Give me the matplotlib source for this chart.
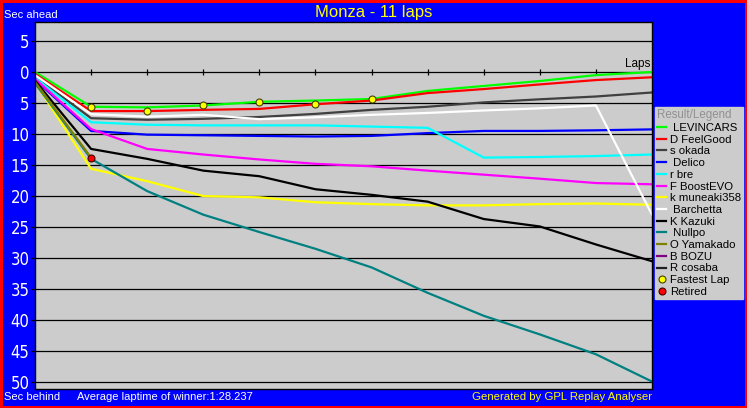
import numpy as np
import matplotlib
matplotlib.use("Agg")
from matplotlib import pyplot as plt
from matplotlib.lines import Line2D
from matplotlib.patches import Rectangle

nan = np.nan
laps = np.arange(0, 12)

# seconds behind the leader at the end of each lap
levincars = [0.0, 5.6, 5.7, 5.4, 4.8, 4.6, 4.35, 3.05, 2.25, 1.45, 0.5, 0.0]
feelgood = [0.3, 6.3, 6.3, 6.1, 5.95, 5.2, 4.6, 3.4, 2.75, 2.0, 1.3, 0.85]
okada = [0.7, 7.45, 7.7, 7.55, 7.25, 6.75, 6.1, 5.6, 4.9, 4.4, 3.95, 3.3]
delico = [1.2, 9.5, 10.1, 10.2, 10.3, 10.4, 10.3, 9.85, 9.5, 9.5, 9.4, 9.25]
rbre = [0.9, 8.1, 8.5, 8.6, 8.6, 8.6, 8.8, 9.0, 13.8, 13.7, 13.55, 13.3]
boostevo = [1.1, 9.2, 12.4, 13.3, 14.1, 14.8, 15.2, 15.9, 16.55, 17.2, 17.9, 18.1]
muneaki = [1.7, 15.6, 17.6, 20.0, 20.2, 21.0, 21.3, 21.5, 21.5, 21.3, 21.2, 21.4]
barchetta = [0.5, 6.8, 7.2, 6.9, 7.6, 7.3, 6.9, 6.6, 6.2, 5.85, 5.4, 23.0]
kazuki = [1.4, 12.4, 14.0, 15.9, 16.8, 18.9, 19.8, 20.9, 23.7, 24.9, 27.8, 30.5]
nullpo = [1.8, 14.0, 19.2, 23.0, 25.8, 28.5, 31.5, 35.6, 39.3, 42.3, 45.5, 49.9]
yamakado = [1.6, 13.8] + [nan] * 10

drivers = [" LEVINCARS", "D FeelGood", "s okada", " Delico", "r bre", "F BoostEVO",
           "k muneaki358", " Barchetta", "K Kazuki", " Nullpo", "O Yamakado",
           "B BOZU", "R cosaba"]
colors = ["#00ff00", "#ff0000", "#404040", "#0000ff", "#00ffff", "#ff00ff",
          "#ffff00", "#ffffff", "#000000", "#008080", "#808000", "#800080", "#202020"]
series = [levincars, feelgood, okada, delico, rbre, boostevo, muneaki, barchetta,
          kazuki, nullpo, yamakado, None, None]

# fastest lap markers (lap, driver index) and retirements
fastest_laps = [1, 2, 3, 4, 5, 6]
fastest_drv = [0, 1, 0, 0, 1, 0]
retired_laps = [1]
retired_drv = [10]

yticks = np.arange(-5, 51, 5)

blue = "#0000ff"
font = "Liberation Sans"
fig = plt.figure(figsize=(7.47, 4.08), dpi=100, facecolor=blue)
ax = fig.add_axes([35 / 747, 1 - 389 / 408, 617 / 747, 367 / 408])
ax.set_facecolor("#cccccc")
for s in ax.spines.values():
    s.set_color("black")
    s.set_linewidth(1.0)

for y in yticks:
    ax.axhline(y, color="black", lw=0.9, zorder=1)
# lap ticks on the zero line
ax.plot(laps[1:-1], np.zeros(len(laps) - 2), "|", color="black", ms=5, mew=0.9, zorder=1)

for vals, c in zip(series, colors):
    if vals is None:
        continue
    ax.plot(laps, vals, color=c, lw=1.6, zorder=2)

fx = [laps[i] for i in fastest_laps]
fy = [series[d][l] for l, d in zip(fastest_laps, fastest_drv)]
ax.plot(fx, fy, "o", ms=5, mfc="#ffff00", mec="#404000", mew=0.8, zorder=3)
rx = [laps[i] for i in retired_laps]
ry = [series[d][l] for l, d in zip(retired_laps, retired_drv)]
ax.plot(rx, ry, "o", ms=5, mfc="#ff0000", mec="#400000", mew=0.8, zorder=3)

ax.set_xlim(0, 11)
ax.set_ylim(51.1, -8.06)
ax.set_xticks([])
ax.set_yticks(yticks)
ax.set_yticklabels([str(abs(v)) for v in yticks])
ax.tick_params(axis="y", colors="black", length=3, width=0.9, pad=1,
               labelcolor="white", labelsize=12)
for lbl in ax.get_yticklabels():
    lbl.set_family("DejaVu Sans")
    lbl.set_stretch("condensed")

ax.text(10.97, -0.3, "Laps", ha="right", va="bottom", fontsize=8.5,
        color="black", family=font)

fig.text(0.5, 1 - 12 / 408, "Monza - 11 laps", ha="center", va="center",
         color="#ffff00", fontsize=12, family=font)
fig.text(4 / 747, 1 - 15 / 408, "Sec ahead", ha="left", va="center",
         color="white", fontsize=8, family=font)
fig.text(4 / 747, 1 - 397 / 408, "Sec behind", ha="left", va="center",
         color="white", fontsize=8, family=font)
fig.text(77 / 747, 1 - 397 / 408, "Average laptime of winner:1:28.237", ha="left",
         va="center", color="white", fontsize=8, family=font)
fig.text(652 / 747, 1 - 397 / 408, "Generated by GPL Replay Analyser", ha="right",
         va="center", color="#ffff00", fontsize=8.2, family=font)

handles = [Line2D([], [], color=c, lw=1.6) for c in colors]
handles.append(Line2D([], [], ls="", marker="o", ms=5, mfc="#ffff00", mec="#404000", mew=0.8))
handles.append(Line2D([], [], ls="", marker="o", ms=5, mfc="#ff0000", mec="#400000", mew=0.8))
labels = drivers + ["Fastest Lap", "Retired"]
leg = fig.legend(handles, labels, title="Result/Legend", loc="upper left",
                 bbox_to_anchor=(655 / 747, 1 - 107 / 408), frameon=True,
                 fancybox=False, facecolor="#cccccc", edgecolor="#cccccc", framealpha=1,
                 prop={"family": font, "size": 8.2}, handlelength=0.8,
                 handletextpad=0.3, labelspacing=0.15, borderpad=0.2,
                 borderaxespad=0, alignment="left")
leg.get_title().set_color("#909090")
leg.get_title().set_fontsize(8.3)
leg.get_title().set_family(font)

fig.patches.append(Rectangle((0, 0), 1, 1, transform=fig.transFigure, fill=False,
                             edgecolor="#ff0000", lw=3.6, clip_on=False))

fig.savefig("out.png", dpi=100, facecolor=blue)
